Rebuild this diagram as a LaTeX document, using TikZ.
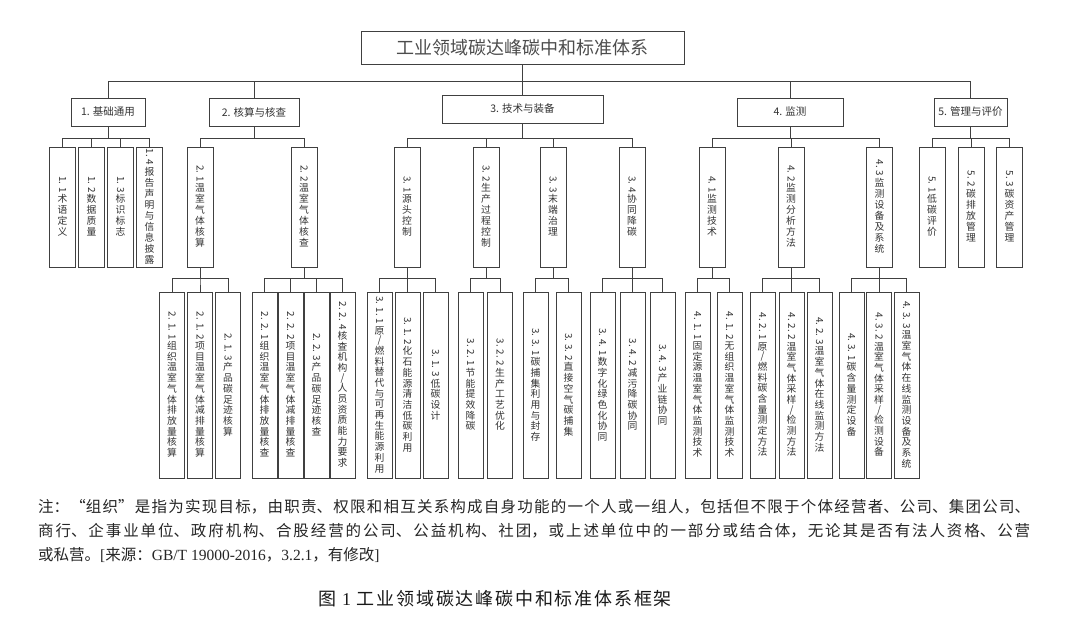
\documentclass[tikz,border=0pt]{standalone}
\usepackage{fontspec}
\usepackage{graphicx}
\setmainfont{Noto Sans CJK SC}
\newfontfamily\lat{Liberation Serif}
\newfontfamily\capfont[LetterSpace=10]{Noto Sans CJK SC}
\XeTeXlinebreaklocale "zh"
\XeTeXlinebreakskip=0pt plus 2pt
\def\vph{9pt}\def\vpd{2pt}
\newcommand\vcharbox[1]{\ifx/#1\hbox to 14pt{\hss\vrule height 5.5pt depth 0.5pt width 0pt\relax /\hss}\else\hbox to 14pt{\hss\vrule height \vph\space depth \vpd\space width 0pt\relax #1\hss}\fi}
\ExplSyntaxOn
\cs_new:Npn \vstack #1 { \tl_map_inline:nn {#1} { \vcharbox{##1} } }
\ExplSyntaxOff
\newcommand\vt[2]{\vbox{\offinterlineskip\hbox to 14pt{\hss\rotatebox{-90}{#1}\hss}\kern1.2pt\vstack{#2}}}
\newcommand\branch[3]{\foreach \ch in {#2}{\draw[conn] (#1.south) -- ++(0,#3) -| (\ch.north);}}
\tikzset{
  box/.style={draw=black!75, line width=0.9pt, inner sep=0pt, text=black!80},
  l1/.style={box, minimum height=28pt, font=\fontsize{10.5}{12}\selectfont},
  l2/.style={box, minimum width=26pt, minimum height=120pt, font=\fontsize{9.8}{11}\selectfont},
  l3/.style={box, minimum width=25pt, minimum height=185.5pt, font=\fontsize{9.8}{11}\selectfont,
    execute at begin node={\def\vph{8.75pt}\def\vpd{1.95pt}}},
  conn/.style={draw=black!75, line width=0.8pt}
}
\begin{document}
\begin{tikzpicture}[x=1pt,y=-1pt]
\fill[white] (0,0) rectangle (1080,639);
\useasboundingbox (0,0) rectangle (1080,639);
% title
\node[box, minimum width=323pt, minimum height=33pt, font=\fontsize{18}{20}\selectfont, text=black!70] (T) at (522.5,47.5) {工业领域碳达峰碳中和标准体系};
% level 1
\node[l1, minimum width=74pt] (L1) at (108,112) {1. 基础通用};
\node[l1, minimum width=90pt] (L2) at (254,112) {2. 核算与核查};
\node[l1, minimum width=161pt] (L3) at (522.5,109) {3. 技术与装备};
\node[l1, minimum width=106pt] (L4) at (790,112) {4. 监测};
\node[l1, minimum width=73pt] (L5) at (970.5,112) {5. 管理与评价};
% level 2
\node[l2] (a1) at (62.5,207) {\vt{1. 1}{术语定义}};
\node[l2] (a2) at (91.5,207) {\vt{1. 2}{数据质量}};
\node[l2] (a3) at (120.5,207) {\vt{1. 3}{标识标志}};
\node[l2] (a4) at (149.5,207) {\vt{1. 4}{报告声明与信息披露}};
\node[l2] (b1) at (200,207) {\vt{2. 1}{温室气体核算}};
\node[l2] (b2) at (304,207) {\vt{2. 2}{温室气体核查}};
\node[l2] (c1) at (407,207) {\vt{3. 1}{源头控制}};
\node[l2] (c2) at (486,207) {\vt{3. 2}{生产过程控制}};
\node[l2] (c3) at (553,207) {\vt{3. 3}{末端治理}};
\node[l2] (c4) at (632,207) {\vt{3. 4}{协同降碳}};
\node[l2] (d1) at (712,207) {\vt{4. 1}{监测技术}};
\node[l2] (d2) at (791,207) {\vt{4. 2}{监测分析方法}};
\node[l2] (d3) at (879.5,207) {\vt{4. 3}{监测设备及系统}};
\node[l2] (e1) at (932,207) {\vt{5. 1}{低碳评价}};
\node[l2] (e2) at (971,207) {\vt{5. 2}{碳排放管理}};
\node[l2] (e3) at (1009.5,207) {\vt{5. 3}{碳资产管理}};
% level 3
\node[l3] (b11) at (172,385.25) {\vt{2. 1. 1}{组织温室气体排放量核算}};
\node[l3] (b12) at (200,385.25) {\vt{2. 1. 2}{项目温室气体减排量核算}};
\node[l3] (b13) at (228,385.25) {\vt{2. 1. 3}{产品碳足迹核算}};
\node[l3] (b21) at (264.5,385.25) {\vt{2. 2. 1}{组织温室气体排放量核查}};
\node[l3] (b22) at (290.5,385.25) {\vt{2. 2. 2}{项目温室气体减排量核查}};
\node[l3] (b23) at (316.5,385.25) {\vt{2. 2. 3}{产品碳足迹核查}};
\node[l3] (b24) at (342.5,385.25) {\vt{2. 2. 4}{核查机构/人员资质能力要求}};
\node[l3] (c11) at (379.5,385.25) {\vt{3. 1. 1}{原/燃料替代与可再生能源利用}};
\node[l3] (c12) at (407.5,385.25) {\vt{3. 1. 2}{化石能源清洁低碳利用}};
\node[l3] (c13) at (435.5,385.25) {\vt{3. 1. 3}{低碳设计}};
\node[l3] (c21) at (470.5,385.25) {\vt{3. 2. 1}{节能提效降碳}};
\node[l3] (c22) at (500,385.25) {\vt{3. 2. 2}{生产工艺优化}};
\node[l3] (c31) at (535.5,385.25) {\vt{3. 3. 1}{碳捕集利用与封存}};
\node[l3] (c32) at (568.5,385.25) {\vt{3. 3. 2}{直接空气碳捕集}};
\node[l3] (c41) at (602.5,385.25) {\vt{3. 4. 1}{数字化绿色化协同}};
\node[l3] (c42) at (632.5,385.25) {\vt{3. 4. 2}{减污降碳协同}};
\node[l3] (c43) at (662.5,385.25) {\vt{3. 4. 3}{产业链协同}};
\node[l3] (d11) at (697.5,385.25) {\vt{4. 1. 1}{固定源温室气体监测技术}};
\node[l3] (d12) at (729.5,385.25) {\vt{4. 1. 2}{无组织温室气体监测技术}};
\node[l3] (d21) at (762.5,385.25) {\vt{4. 2. 1}{原/燃料碳含量测定方法}};
\node[l3] (d22) at (791.5,385.25) {\vt{4. 2. 2}{温室气体采样/检测方法}};
\node[l3] (d23) at (819.5,385.25) {\vt{4. 2. 3}{温室气体在线监测方法}};
\node[l3] (d31) at (851.5,385.25) {\vt{4. 3. 1}{碳含量测定设备}};
\node[l3] (d32) at (879,385.25) {\vt{4. 3. 2}{温室气体采样/检测设备}};
\node[l3] (d33) at (906.5,385.25) {\vt{4. 3. 3}{温室气体在线监测设备及系统}};
% connectors
\branch{T}{L1,L2,L3,L4,L5}{17}
\branch{L1}{a1,a2,a3,a4}{12}
\branch{L2}{b1,b2}{12}
\branch{L3}{c1,c2,c3,c4}{15}
\branch{L4}{d1,d2,d3}{12}
\branch{L5}{e1,e2,e3}{12}
\branch{b1}{b11,b12,b13}{11}
\branch{b2}{b21,b22,b23,b24}{11}
\branch{c1}{c11,c12,c13}{11}
\branch{c2}{c21,c22}{11}
\branch{c3}{c31,c32}{11}
\branch{c4}{c41,c42,c43}{11}
\branch{d1}{d11,d12}{11}
\branch{d2}{d21,d22,d23}{11}
\branch{d3}{d31,d32,d33}{11}
% note
\node[anchor=north west, inner sep=0pt, text width=992pt, align=justify, font=\fontsize{15.5}{24}\selectfont, text=black!85] (note) at (38,499) {注：“组织”是指为实现目标，由职责、权限和相互关系构成自身功能的一个人或一组人，包括但不限于个体经营者、公司、集团公司、\linebreak 商行、企事业单位、政府机构、合股经营的公司、公益机构、社团，或上述单位中的一部分或结合体，无论其是否有法人资格、公营\linebreak 或私营。{\lat [}来源：{\lat GB/T 19000-2016}，{\lat 3.2.1}，有修改{\lat ]}};
% caption
\node[anchor=base, inner sep=0pt, font=\capfont\fontsize{18}{20}\selectfont, text=black!90] (cap) at (495,605) {图 {\lat 1} 工业领域碳达峰碳中和标准体系框架};
\end{tikzpicture}
\end{document}
